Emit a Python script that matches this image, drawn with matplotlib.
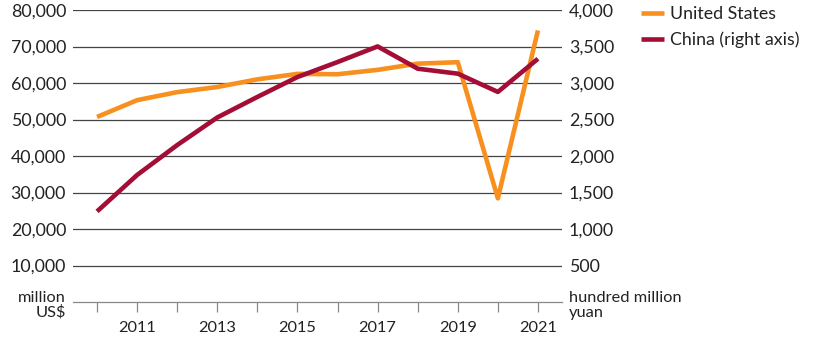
import numpy as np
import matplotlib
matplotlib.use('Agg')
import matplotlib.pyplot as plt
from matplotlib.ticker import FuncFormatter

plt.rcParams['font.family'] = ['Lato', 'DejaVu Sans']

# data
years = [2010, 2011, 2012, 2013, 2014, 2015, 2016, 2017, 2018, 2019, 2020, 2021]
us_vals = [50700, 55300, 57500, 58900, 61000, 62500, 62400, 63600, 65300, 65700, 28400, 74400]   # million US$
china_vals = [1241, 1740, 2150, 2528, 2809, 3082, 3287, 3501, 3196, 3128, 2878, 3332]  # hundred million yuan

left_ticks = [10000, 20000, 30000, 40000, 50000, 60000, 70000, 80000]
right_ticks = [500, 1000, 1500, 2000, 2500, 3000, 3500, 4000]
label_years = [2011, 2013, 2015, 2017, 2019, 2021]
minor_years = [2010, 2012, 2014, 2016, 2018, 2020]

orange = '#F7901E'
crimson = '#A30D36'
fs = 12.8

W, H = 816, 357
fig = plt.figure(figsize=(W/100, H/100), dpi=100)
ax = fig.add_axes([73/W, 1-302/H, (562-73)/W, (302-10)/H])
ax2 = ax.twinx()

ax.set_xlim(2009.4, 2021.6)
ax.set_ylim(0, 80000)
ax2.set_ylim(0, 4000)

# gridlines
for v in left_ticks:
    ax.axhline(v, color='#444444', lw=0.9, zorder=0)

l1, = ax.plot(years, us_vals, color=orange, lw=3.3, solid_capstyle='butt', zorder=3)
l2, = ax2.plot(years, china_vals, color=crimson, lw=3.3, solid_capstyle='butt', zorder=3)

for a in (ax, ax2):
    for s in ['top', 'left', 'right']:
        a.spines[s].set_visible(False)
ax2.spines['bottom'].set_visible(False)
ax.spines['bottom'].set_color('#888888')
ax.spines['bottom'].set_linewidth(0.9)

ax.set_yticks(left_ticks)
ax.yaxis.set_major_formatter(FuncFormatter(lambda v, p: '{:,.0f}'.format(v)))
ax.tick_params(axis='y', length=0, pad=5, labelsize=fs, labelcolor='#222222')

ax2.set_yticks(right_ticks)
ax2.yaxis.set_major_formatter(FuncFormatter(lambda v, p: '{:,.0f}'.format(v)))
ax2.tick_params(axis='y', length=0, pad=5, labelsize=fs, labelcolor='#222222')

ax.set_xticks(label_years)
ax.set_xticklabels([str(y) for y in label_years])
ax.set_xticks(minor_years, minor=True)
ax.tick_params(axis='x', which='both', direction='out', length=7.5, width=0.9,
               color='#888888', labelsize=fs*0.92, labelcolor='#222222', pad=6)

fig.text(66/W, 1-305.5/H, 'million\nUS$', ha='right', va='center', fontsize=fs*0.92,
         linespacing=1.0, color='#222222')
fig.text(569/W, 1-305.5/H, 'hundred million\nyuan', ha='left', va='center', fontsize=fs*0.92,
         linespacing=1.0, color='#222222')

fig.legend([l1, l2], ['United States', 'China (right axis)'], loc='upper left',
           bbox_to_anchor=(641/W, 1-6/H), frameon=False, fontsize=fs,
           handlelength=1.3, handletextpad=0.35, labelspacing=0.55,
           borderpad=0, borderaxespad=0, labelcolor='#222222')

fig.savefig('out.png', dpi=100)
